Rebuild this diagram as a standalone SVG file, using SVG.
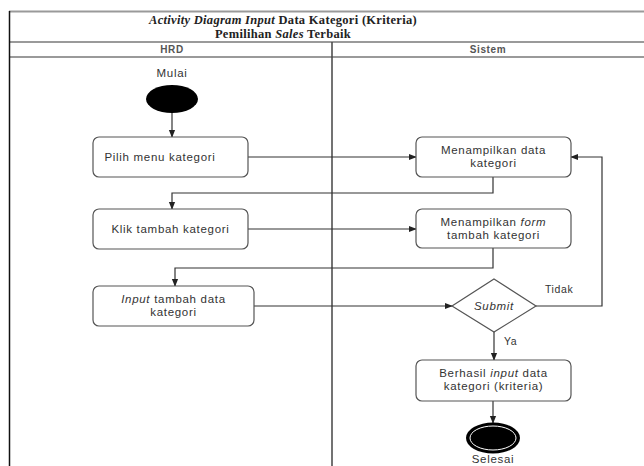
<svg xmlns="http://www.w3.org/2000/svg" width="644" height="466" viewBox="0 0 644 466">
  <defs>
    <marker id="arrow" viewBox="0 0 10 10" refX="9" refY="5" markerWidth="8" markerHeight="8" markerUnits="userSpaceOnUse" orient="auto">
      <path d="M0,1 L10,5 L0,9 Z" fill="#222"/>
    </marker>
    <style>
      .frame { stroke: #9a9a9a; stroke-width: 2; fill: none; }
      .title { font-family: "Liberation Serif", "Times New Roman", serif; font-size: 12.5px; font-weight: bold; fill: #222; text-anchor: middle; letter-spacing: 0.3px; }
      .lane { font-family: "Liberation Sans", Arial, sans-serif; font-size: 10px; font-weight: bold; fill: #555; text-anchor: middle; letter-spacing: 0.6px; }
      .node { fill: #fff; stroke: #555; stroke-width: 1.2; }
      .label { font-family: "Liberation Sans", Arial, sans-serif; font-size: 11.5px; fill: #333; text-anchor: middle; letter-spacing: 0.7px; }
      .small { font-family: "Liberation Sans", Arial, sans-serif; font-size: 10.5px; fill: #333; letter-spacing: 0.6px; }
      .edge { fill: none; stroke: #333; stroke-width: 1.2; marker-end: url(#arrow); }
    </style>
  </defs>

  <rect width="644" height="466" fill="#fff"/>

  <!-- swimlane frame -->
  <g id="frame">
    <line class="frame" x1="9" y1="11.5" x2="644" y2="11.5"/>
    <line class="frame" x1="9" y1="42" x2="644" y2="42"/>
    <line class="frame" x1="9" y1="57" x2="644" y2="57"/>
    <line x1="9.5" y1="11" x2="9.5" y2="466" stroke="#111" stroke-width="1.5"/>
    <line x1="332" y1="42" x2="332" y2="466" stroke="#444" stroke-width="1.5"/>
    <text class="title" x="283" y="24"><tspan font-style="italic">Activity Diagram Input</tspan> Data Kategori (Kriteria)</text>
    <text class="title" x="283" y="37.5">Pemilihan <tspan font-style="italic">Sales</tspan> Terbaik</text>
    <text class="lane" x="172" y="53">HRD</text>
    <text class="lane" x="488" y="53">Sistem</text>
  </g>

  <!-- connectors -->
  <g id="connectors">
    <path class="edge" d="M172,113 L172,137"/>
    <path class="edge" d="M248,157 L416,157"/>
    <path class="edge" d="M493,177 L493,193 L172,193 L172,209"/>
    <path class="edge" d="M248,229 L416,229"/>
    <path class="edge" d="M493,248 L493,268 L175,268 L175,286"/>
    <path class="edge" d="M254,306 L452,306"/>
    <path class="edge" d="M536,306 L602,306 L602,157 L571,157"/>
    <path class="edge" d="M494,332 L494,360"/>
    <path class="edge" d="M493,401 L493,423"/>
    <text class="small" x="545" y="293">Tidak</text>
    <text class="small" x="504" y="345">Ya</text>
  </g>

  <g id="start">
    <text class="label" x="172" y="77">Mulai</text>
    <ellipse cx="172" cy="99" rx="26" ry="14" fill="#000"/>
  </g>

  <g id="pilih-menu">
    <rect class="node" x="93" y="137" width="155" height="40" rx="6"/>
    <text class="label" x="160" y="161">Pilih menu kategori</text>
  </g>

  <g id="klik-tambah">
    <rect class="node" x="93" y="209" width="155" height="40" rx="6"/>
    <text class="label" x="170.5" y="233">Klik tambah kategori</text>
  </g>

  <g id="input-tambah">
    <rect class="node" x="93" y="286" width="161" height="40" rx="6"/>
    <text class="label" x="173.5" y="303"><tspan font-style="italic">Input</tspan> tambah data</text>
    <text class="label" x="173.5" y="316">kategori</text>
  </g>

  <g id="tampil-data">
    <rect class="node" x="416" y="137" width="155" height="40" rx="6"/>
    <text class="label" x="493.5" y="154">Menampilkan data</text>
    <text class="label" x="493.5" y="167">kategori</text>
  </g>

  <g id="tampil-form">
    <rect class="node" x="416" y="209" width="155" height="39" rx="6"/>
    <text class="label" x="493.5" y="226">Menampilkan <tspan font-style="italic">form</tspan></text>
    <text class="label" x="493.5" y="239">tambah kategori</text>
  </g>

  <g id="submit">
    <polygon class="node" points="494,279 536,306 494,332 452,306"/>
    <text class="label" x="494" y="310" font-style="italic">Submit</text>
  </g>

  <g id="berhasil">
    <rect class="node" x="416" y="360" width="155" height="41" rx="6"/>
    <text class="label" x="493.5" y="377">Berhasil <tspan font-style="italic">input</tspan> data</text>
    <text class="label" x="493.5" y="390">kategori (kriteria)</text>
  </g>

  <g id="end">
    <ellipse cx="493" cy="438" rx="27" ry="15.5" fill="#000"/>
    <ellipse cx="493" cy="438" rx="23" ry="12" fill="none" stroke="#fff" stroke-width="1"/>
    <text class="label" x="493" y="463" font-size="10.5px">Selesai</text>
  </g>
</svg>
